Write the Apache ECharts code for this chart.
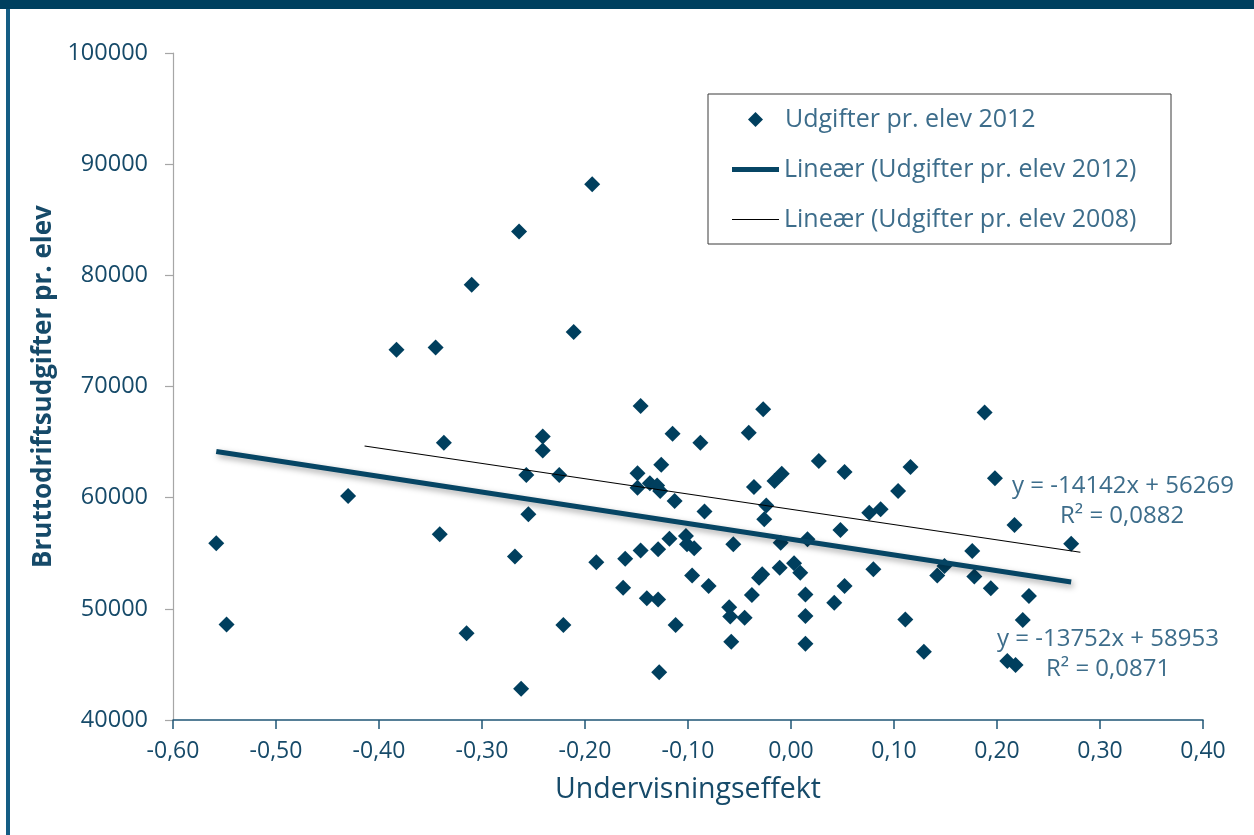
<!DOCTYPE html>
<html>
<head>
<meta charset="utf-8">
<script src="https://cdn.jsdelivr.net/npm/echarts@6/dist/echarts.min.js"></script>
<style>
html,body{margin:0;padding:0;background:#fff;}
#chart{width:1254px;height:835px;}
</style>
</head>
<body>
<div id="chart"></div>
<script>
// Undervisningseffekt (x) for each school, 2012
const effect2012 = [
  -0.558,-0.548,-0.430,-0.383,-0.345,-0.337,-0.341,-0.310,-0.315,-0.268,
  -0.264,-0.257,-0.255,-0.262,-0.241,-0.241,-0.225,-0.221,-0.211,-0.193,
  -0.189,-0.163,-0.161,-0.149,-0.149,-0.146,-0.146,-0.140,-0.137,-0.130,
  -0.129,-0.129,-0.128,-0.127,-0.126,-0.118,-0.115,-0.113,-0.112,-0.102,
  -0.101,-0.096,-0.094,-0.088,-0.084,-0.080,-0.060,-0.059,-0.058,-0.056,
  -0.045,-0.041,-0.038,-0.036,-0.031,-0.028,-0.027,-0.024,-0.026,-0.016,
  -0.009,-0.011,-0.010,0.003,0.009,0.014,0.014,0.014,0.016,0.027,
  0.042,0.048,0.052,0.052,0.076,0.080,0.087,0.104,0.111,0.116,
  0.129,0.142,0.149,0.176,0.178,0.188,0.194,0.198,0.210,0.217,
  0.218,0.225,0.231,0.272
];
// Bruttodriftsudgifter pr. elev (y), 2012
const spend2012 = [
  55900,48600,60150,73300,73500,64950,56700,79150,47800,54700,
  83950,62050,58500,42800,65500,64250,62050,48550,74900,88200,
  54200,51900,54500,62200,60900,68250,55250,50950,61300,61100,
  50850,55350,44300,60600,62950,56300,65750,59700,48550,56550,
  55800,53000,55450,64950,58750,52050,50150,49300,47050,55800,
  49200,65850,51250,60950,52800,53100,67950,59300,58050,61500,
  62150,53700,55950,54100,53250,51300,49350,46850,56250,63300,
  50550,57100,62300,52050,58650,53550,58950,60600,49050,62750,
  46150,53000,53850,55200,52900,67650,51850,61750,45300,57550,
  44950,49000,51150,55850
];
// Trend line end points [x, y]
const trend2012 = [[-0.558, 64160], [0.272, 52422]];
const trend2008 = [[-0.414, 64646], [0.281, 55089]];

const xTicks = { min: -0.6, max: 0.4, interval: 0.1 };
const yTicks = { min: 40000, max: 100000, interval: 10000 };

const eqTexts = ['y = -14142x + 56269', 'R² = 0,0882', 'y = -13752x + 58953', 'R² = 0,0871'];

const seriesNames = ['Udgifter pr. elev 2012', 'Lineær (Udgifter pr. elev 2012)', 'Lineær (Udgifter pr. elev 2008)'];

const scatterData = effect2012.map((x, i) => [x, spend2012[i]]);

const FONT = '"Open Sans", "DejaVu Sans", sans-serif';
const DARK = '#003f5e';
const TICKTXT = '#164a69';
const LIGHTTXT = '#3d6d8b';

const chart = echarts.init(document.getElementById('chart'), null, { renderer: 'canvas' });
chart.setOption({
  animation: false,
  backgroundColor: '#ffffff',
  textStyle: { fontFamily: FONT },
  grid: { left: 173, right: 51, top: 53, bottom: 115, containLabel: false },
  xAxis: {
    type: 'value',
    min: xTicks.min, max: xTicks.max, interval: xTicks.interval,
    name: 'Undervisningseffekt',
    nameLocation: 'middle',
    nameGap: 55,
    nameTextStyle: { color: TICKTXT, fontSize: 28.5, fontFamily: FONT },
    axisLine: { onZero: false, lineStyle: { color: '#1f5676', width: 1.5 } },
    axisTick: { show: true, inside: false, length: 9, lineStyle: { color: '#1f5676', width: 1.5 } },
    axisLabel: {
      color: TICKTXT, fontSize: 23, fontFamily: FONT, margin: 20,
      formatter: v => v.toFixed(2).replace('.', ',')
    },
    splitLine: { show: false }
  },
  yAxis: {
    type: 'value',
    min: yTicks.min, max: yTicks.max, interval: yTicks.interval,
    name: 'Bruttodriftsudgifter pr. elev',
    nameLocation: 'middle',
    nameRotate: 90,
    nameGap: 107,
    nameTextStyle: { color: TICKTXT, fontSize: 26, fontWeight: 'bold', fontFamily: FONT },
    axisLine: { onZero: false, lineStyle: { color: '#a6a6a6', width: 1.2 } },
    axisTick: { show: true, inside: false, length: 8, lineStyle: { color: '#a6a6a6', width: 1.2 } },
    axisLabel: { color: TICKTXT, fontSize: 23.5, fontFamily: FONT, margin: 25, formatter: v => String(Math.round(v)) },
    splitLine: { show: false }
  },
  legend: [
    {
      data: [{ name: seriesNames[0], icon: 'diamond' }],
      left: 743, top: 102, orient: 'vertical',
      itemWidth: 15, itemHeight: 15, selectedMode: false,
      itemStyle: { borderWidth: 0, opacity: 1 },
      textStyle: { color: LIGHTTXT, fontSize: 25, fontFamily: FONT, padding: [0, 0, 0, 17] }
    },
    {
      data: [{ name: seriesNames[1], icon: 'rect' }],
      left: 727, top: 152, orient: 'vertical',
      itemWidth: 47, itemHeight: 5, selectedMode: false,
      itemStyle: { borderWidth: 0 },
      textStyle: { color: LIGHTTXT, fontSize: 25, fontFamily: FONT, padding: [0, 0, 0, 0] }
    },
    {
      data: [{ name: seriesNames[2], icon: 'rect' }],
      left: 727, top: 202, orient: 'vertical',
      itemWidth: 47, itemHeight: 1.2, selectedMode: false,
      itemStyle: { borderWidth: 0 },
      textStyle: { color: LIGHTTXT, fontSize: 25, fontFamily: FONT, padding: [0, 0, 0, 0] }
    }
  ],
  graphic: [
    { type: 'rect', silent: true, shape: { x: 0, y: 0, width: 1254, height: 9 }, style: { fill: '#00405f' } },
    { type: 'rect', silent: true, shape: { x: 6, y: 9, width: 4, height: 826 }, style: { fill: '#155d84' } },
    { type: 'rect', silent: true, shape: { x: 708, y: 94, width: 463, height: 150 }, style: { fill: 'none', stroke: '#3a3a3a', lineWidth: 1 } },
    { type: 'text', silent: true, left: 1012, top: 474, style: { text: eqTexts[0], fill: LIGHTTXT, font: '24px ' + FONT } },
    { type: 'text', silent: true, left: 1060, top: 504, style: { text: eqTexts[1], fill: LIGHTTXT, font: '24px ' + FONT } },
    { type: 'text', silent: true, left: 997, top: 627, style: { text: eqTexts[2], fill: LIGHTTXT, font: '24px ' + FONT } },
    { type: 'text', silent: true, left: 1046, top: 657, style: { text: eqTexts[3], fill: LIGHTTXT, font: '24px ' + FONT } }
  ],
  series: [
    {
      name: seriesNames[0],
      type: 'scatter',
      symbol: 'diamond',
      symbolSize: 16,
      itemStyle: { color: DARK, opacity: 1 },
      data: scatterData
    },
    {
      name: seriesNames[1],
      type: 'line',
      symbol: 'none',
      color: '#064564',
      lineStyle: {
        color: '#064564', width: 5,
        shadowColor: 'rgba(0,0,0,0.35)', shadowBlur: 6, shadowOffsetX: 2, shadowOffsetY: 3
      },
      data: trend2012
    },
    {
      name: seriesNames[2],
      type: 'line',
      symbol: 'none',
      color: '#000000',
      lineStyle: { color: '#000000', width: 1.1 },
      data: trend2008
    }
  ]
});
</script>
</body>
</html>
